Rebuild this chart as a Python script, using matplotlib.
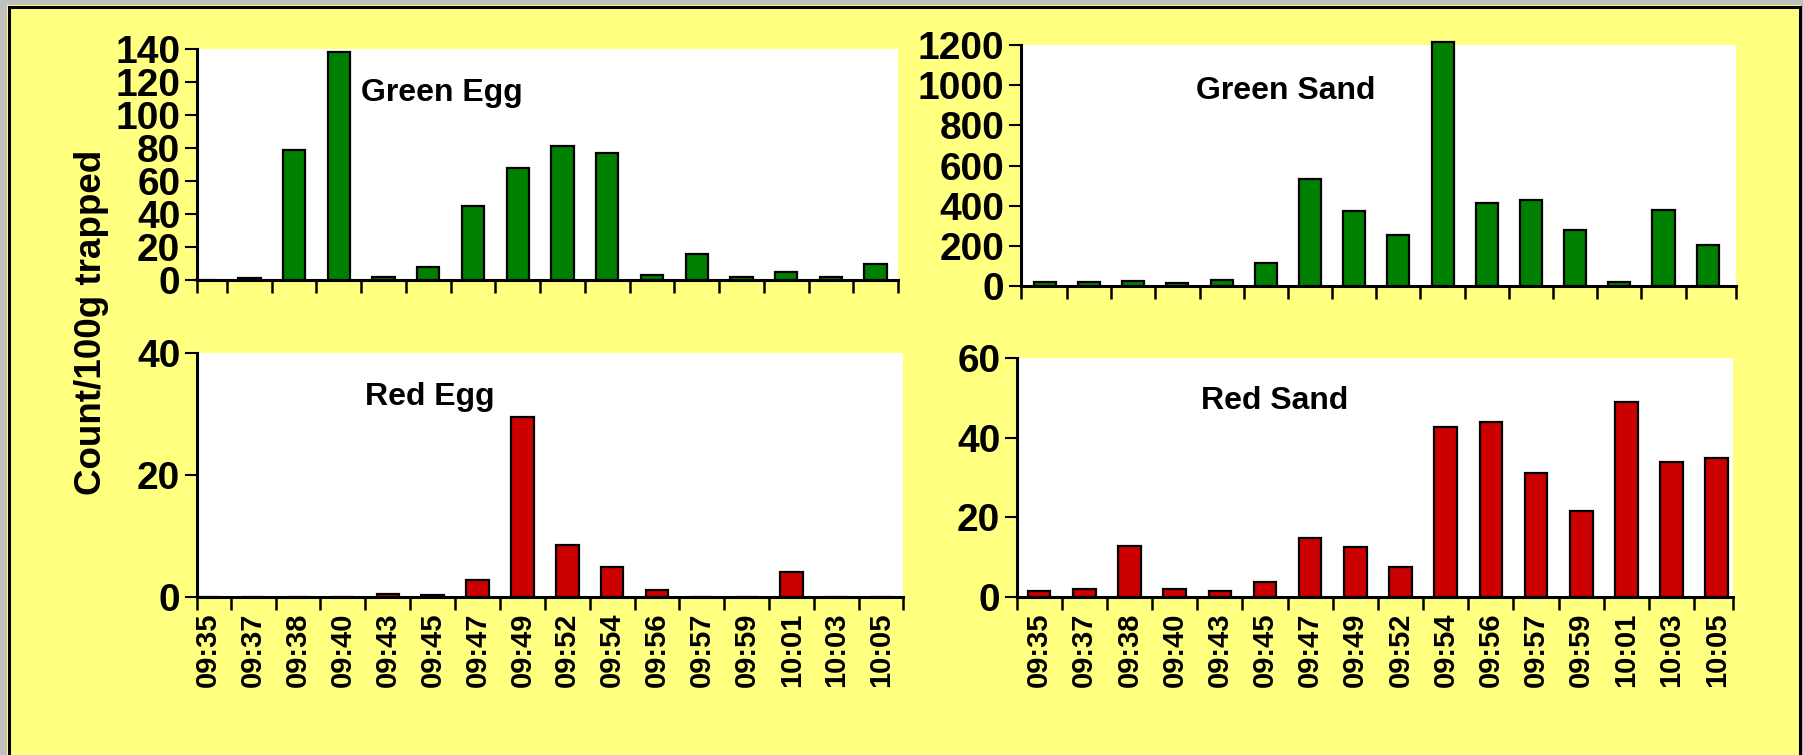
import matplotlib.pyplot as plt
from matplotlib.patches import Rectangle
from matplotlib.lines import Line2D

plt.rcParams['font.family'] = ['Liberation Sans', 'DejaVu Sans']
plt.rcParams['font.weight'] = 'bold'

times = ["09:35", "09:37", "09:38", "09:40", "09:43", "09:45", "09:47", "09:49",
         "09:52", "09:54", "09:56", "09:57", "09:59", "10:01", "10:03", "10:05"]

green_egg = [0, 1, 79, 138, 2, 8, 45, 68, 81, 77, 3, 16, 2, 5, 2, 10]
green_sand = [18, 18, 25, 17, 28, 115, 533, 373, 252, 1215, 415, 428, 279, 18, 377, 204]
red_egg = [0, 0, 0, 0, 0.5, 0.3, 2.8, 29.5, 8.6, 5.0, 1.1, 0, 0, 4.1, 0, 0]
red_sand = [1.5, 2, 12.9, 2, 1.4, 3.7, 14.7, 12.5, 7.5, 42.7, 44, 31.2, 21.5, 49, 34, 35]

GREEN = "#008000"
RED = "#CC0000"
YELLOW = "#FFFF80"
NARROW = ['Liberation Sans Narrow', 'Liberation Sans', 'DejaVu Sans']

fig = plt.figure(figsize=(18.03, 7.55), dpi=100, facecolor=YELLOW)

# outer frame: grey strips on top/left and a black border line
fig.patches.append(Rectangle((0, 1 - 5 / 755), 1, 5 / 755, transform=fig.transFigure,
                             facecolor="#C0C0C0", edgecolor="none", zorder=0))
fig.patches.append(Rectangle((0, 0), 7 / 1803, 1, transform=fig.transFigure,
                             facecolor="#C0C0C0", edgecolor="none", zorder=0))
fig.patches.append(Rectangle((1801 / 1803, 0), 2 / 1803, 1, transform=fig.transFigure,
                             facecolor="#C0C0C0", edgecolor="none", zorder=0))
top_y = 1 - 6.5 / 755
fig.lines.append(Line2D([9 / 1803, 1800 / 1803], [top_y, top_y], transform=fig.transFigure,
                        color="black", linewidth=2.2))
fig.lines.append(Line2D([9 / 1803, 9 / 1803], [0, top_y], transform=fig.transFigure,
                        color="black", linewidth=2.2))
fig.lines.append(Line2D([1800 / 1803, 1800 / 1803], [0, top_y], transform=fig.transFigure,
                        color="black", linewidth=2.2))


def panel(rect, values, color, ymax, ystep, title, title_xy, xlim, labels):
    ax = fig.add_axes(rect)
    ax.set_facecolor("white")
    x = range(len(times))
    ax.bar(x, values, width=0.5, color=color, edgecolor="black", linewidth=1.6,
           zorder=3, clip_on=False)
    ax.set_xlim(*xlim)
    ax.set_ylim(0, ymax)
    ax.set_yticks(range(0, ymax + 1, ystep))
    ax.tick_params(axis="y", direction="out", length=9, width=1.5, pad=3)
    for t in ax.get_yticklabels():
        t.set_fontweight("bold")
        t.set_fontfamily(NARROW)
        t.set_fontsize(28)
    # tick marks between categories, labels at category centres
    ax.set_xticks(list(x))
    ax.set_xticks([xlim[0]] + [i + 0.5 for i in range(len(times) - 1)] + [xlim[1]], minor=True)
    ax.tick_params(axis="x", which="minor", direction="out", length=9, width=1.8)
    if labels:
        ax.set_xticklabels(times, rotation=90, fontsize=21, fontweight="bold")
        ax.tick_params(axis="x", which="major", length=0, pad=11)
    else:
        ax.set_xticklabels([])
        ax.tick_params(axis="x", which="major", length=0)
    for side in ("top", "right"):
        ax.spines[side].set_visible(False)
    for side in ("left", "bottom"):
        ax.spines[side].set_linewidth(2.2)
    ax.text(title_xy[0], title_xy[1], title, transform=ax.transAxes, ha="center",
            va="center", fontsize=23, fontweight="bold")
    return ax


panel([197 / 1803, 1 - 280 / 755, 701 / 1803, 231 / 755], green_egg, GREEN, 140, 20,
      "Green Egg", (0.35, 0.81), (-0.17, 15.5), False)
panel([1021 / 1803, 1 - 286 / 755, 715 / 1803, 241 / 755], green_sand, GREEN, 1200, 200,
      "Green Sand", (0.37, 0.81), (-0.54, 15.64), False)
panel([197 / 1803, 1 - 597 / 755, 706 / 1803, 244 / 755], red_egg, RED, 40, 20,
      "Red Egg", (0.33, 0.82), (-0.25, 15.48), True)
panel([1017 / 1803, 1 - 597 / 755, 716 / 1803, 239 / 755], red_sand, RED, 60, 20,
      "Red Sand", (0.36, 0.82), (-0.49, 15.36), True)

fig.text(92 / 1803, 1 - 322 / 755, "Count/100g trapped", rotation=90, ha="center",
         va="center", fontsize=26.5, fontweight="bold")

fig.savefig("out.png", dpi=100, facecolor=YELLOW)
